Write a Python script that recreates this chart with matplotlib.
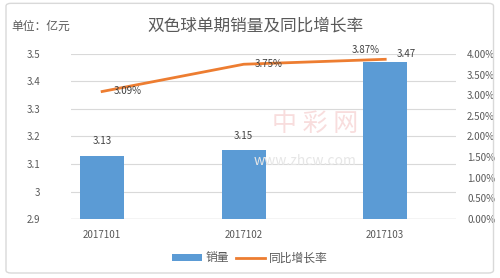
import matplotlib
matplotlib.use('Agg')
import matplotlib.pyplot as plt
from matplotlib.patches import FancyBboxPatch, Patch
from matplotlib.lines import Line2D
from matplotlib.ticker import FuncFormatter

plt.rcParams['font.family'] = ['Noto Sans CJK SC', 'DejaVu Sans']

qishu = ['2017101', '2017102', '2017103']
xiaoliang = [3.13, 3.15, 3.47]
zengzhang = [3.09, 3.75, 3.87]

blue = '#5b9bd5'
orange = '#ed7d31'
grey = '#595959'

fig = plt.figure(figsize=(5, 2.78), dpi=100)
ax = fig.add_axes([0.142, 0.212, 0.770, 0.594])
x = range(len(qishu))
bars = ax.bar(x, xiaoliang, width=0.31, color=blue, zorder=2)
ax.set_ylim(2.9, 3.5)
ax.set_yticks([2.9, 3.0, 3.1, 3.2, 3.3, 3.4, 3.5])
ax.yaxis.set_major_formatter(FuncFormatter(lambda v, p: ('%.1f' % v).rstrip('0').rstrip('.')))
ax.set_xlim(-0.22, 2.5)
ax.set_xticks(list(x))
ax.set_xticklabels(qishu)
ax.grid(axis='y', color='#d9d9d9', lw=0.8, zorder=0)
for s in ax.spines.values():
    s.set_visible(False)
ax.axhline(2.9, color='#bfbfbf', lw=0.9, zorder=1)
ax.tick_params(length=0, labelsize=7, colors=grey)
ax.tick_params(axis='y', pad=22)
ax.tick_params(axis='x', pad=8)

# bar labels
offs = [(0, 7), (0, 7), (15, 2)]
for i, v in enumerate(xiaoliang):
    ax.annotate('%.2f' % v, (i, v), xytext=offs[i], textcoords='offset points',
                ha='center', va='bottom', fontsize=7, color='#404040')

ax2 = ax.twinx()
ax2.plot(list(x), zengzhang, color=orange, lw=2, zorder=3)
ax2.set_ylim(0, 4)
ax2.set_yticks([0, 0.5, 1, 1.5, 2, 2.5, 3, 3.5, 4])
ax2.yaxis.set_major_formatter(FuncFormatter(lambda v, p: '%.2f%%' % v))
for s in ax2.spines.values():
    s.set_visible(False)
ax2.tick_params(length=0, labelsize=7, colors=grey, pad=8)
poffs = [(8, 0, 'left', 'center'), (8, 0, 'left', 'center'), (-4, 3, 'right', 'bottom')]
for i, v in enumerate(zengzhang):
    dx, dy, ha, va = poffs[i]
    ax2.annotate('%.2f%%' % v, (i, v), xytext=(dx, dy), textcoords='offset points',
                 ha=ha, va=va, fontsize=7, color='#404040')

# faint watermark
fig.text(0.63, 0.55, '中 彩 网', fontsize=18, color='#f4c7c7', ha='center', va='center',
         alpha=0.6, zorder=0)
fig.text(0.61, 0.42, 'www.zhcw.com', fontsize=10, color='#e6e6e6', ha='center', va='center',
         zorder=0)

fig.text(0.51, 0.905, '双色球单期销量及同比增长率', fontsize=12, color=grey, ha='center', va='center')
fig.text(0.022, 0.905, '单位：亿元', fontsize=8.5, color=grey, ha='left', va='center')

handles = [Patch(facecolor=blue), Line2D([0], [0], color=orange, lw=2)]
fig.legend(handles, ['销量', '同比增长率'], loc='center', bbox_to_anchor=(0.5, 0.072), ncol=2,
           frameon=False, fontsize=8.5, handlelength=2.5, handleheight=0.6, columnspacing=0.6,
           handletextpad=0.3, labelcolor=grey)

fig.patches.append(FancyBboxPatch((0.012, 0.018), 0.975, 0.97, boxstyle='round,pad=0,rounding_size=0.01',
                                  transform=fig.transFigure, fill=False, ec='#d9d9d9', lw=1))
fig.savefig('out.png', dpi=100)
